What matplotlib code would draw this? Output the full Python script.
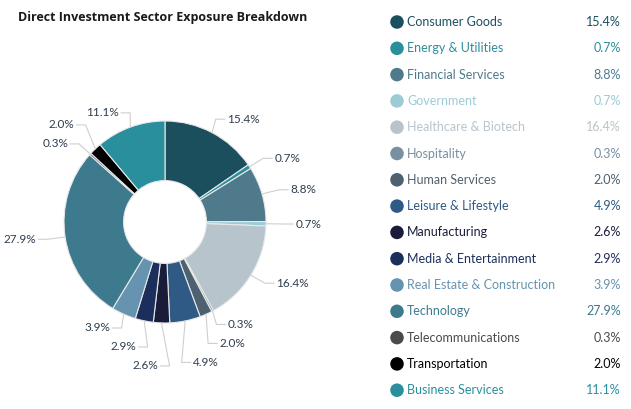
import numpy as np
import matplotlib
matplotlib.use("Agg")
import matplotlib.pyplot as plt

sectors = ["Consumer Goods", "Energy & Utilities", "Financial Services", "Government",
           "Healthcare & Biotech", "Hospitality", "Human Services", "Leisure & Lifestyle",
           "Manufacturing", "Media & Entertainment", "Real Estate & Construction",
           "Technology", "Telecommunications", "Transportation", "Business Services"]
shares = [15.4, 0.7, 8.8, 0.7, 16.4, 0.3, 2.0, 4.9, 2.6, 2.9, 3.9, 27.9, 0.3, 2.0, 11.1]
colors = ["#1b4f5e", "#2a8f9c", "#4e7a8c", "#9ccbd6", "#b8c4cc", "#7890a0", "#4d6170",
          "#2e5a85", "#1a1d3a", "#1c2f5c", "#6593b0", "#3d7a8e", "#4a4a4a", "#000000",
          "#2a8f9c"]

W, H = 631, 409
fig = plt.figure(figsize=(W / 100, H / 100), dpi=100)
fig.patch.set_facecolor("white")

# pie axes: 1 data unit = R pixels, centre at (cx, cy) pixels from top-left
cx, cy, R = 165, 222, 101
pw = 385
ax = fig.add_axes([0, 0, pw / W, 1])

wedges, _ = ax.pie(shares, colors=colors, startangle=90, counterclock=False,
                   radius=1.0, wedgeprops=dict(width=0.59, edgecolor="#e8e8e8", linewidth=0.8))
ax.set_aspect("auto")
ax.set_xlim(-cx / R, (pw - cx) / R)
ax.set_ylim(-(H - cy) / R, cy / R)
ax.axis("off")

# label placement
total = sum(shares)
cum = np.cumsum([0] + shares[:-1])
mids = np.deg2rad((cum + np.array(shares) / 2) / total * 360)
rx, ry = 1.27, 1.15
gap = 19 / R
labels = []
for i, a in enumerate(mids):
    side = 1 if np.sin(a) >= 0 else -1
    labels.append(dict(i=i, a=a, side=side, x=rx * np.sin(a), y=ry * np.cos(a)))

for side in (1, -1):
    grp = [l for l in labels if l["side"] == side]
    bottom = sorted([l for l in grp if l["y"] < 0], key=lambda l: -l["y"])
    top = sorted([l for l in grp if l["y"] >= 0], key=lambda l: l["y"])
    for seq, d in ((bottom, -1), (top, 1)):
        for k in range(1, len(seq)):
            prev, cur = seq[k - 1], seq[k]
            if abs(cur["x"] - prev["x"]) < 0.3:
                if d == -1:
                    cur["y"] = min(cur["y"], prev["y"] - gap)
                else:
                    cur["y"] = max(cur["y"], prev["y"] + gap)

for l in labels:
    a, s = l["a"], l["side"]
    ex, ey = np.sin(a), np.cos(a)
    kx = l["x"] - s * 9 / R
    ax.plot([ex, kx, l["x"]], [ey, l["y"], l["y"]], color="#cfcfcf", lw=0.8, zorder=1)
    ax.text(l["x"] + s * 2 / R, l["y"], f"{shares[l['i']]:.1f}%", fontsize=8.5,
            color="#2e3d4f", ha="left" if s > 0 else "right", va="center",
            family="Lato")

fig.text(18 / W, 1 - 17 / H, "Direct Investment Sector Exposure Breakdown",
         fontsize=9, fontweight="bold", family="Open Sans", color="#1a1a1a",
         ha="left", va="center")

# legend
lg = fig.add_axes([0, 0, 1, 1])
lg.set_xlim(0, W)
lg.set_ylim(H, 0)
lg.axis("off")
y0, step = 22, 26.3
for i, (name, val, c) in enumerate(zip(sectors, shares, colors)):
    y = y0 + i * step
    lg.scatter([397], [y], s=95, color=c, edgecolors="none")
    lg.text(407, y, name, fontsize=9, color=c, ha="left", va="center", family="Lato")
    lg.text(621, y, f"{val:.1f}%", fontsize=9, color=c, ha="right", va="center",
            family="Lato")

fig.savefig("out.png", dpi=100)
